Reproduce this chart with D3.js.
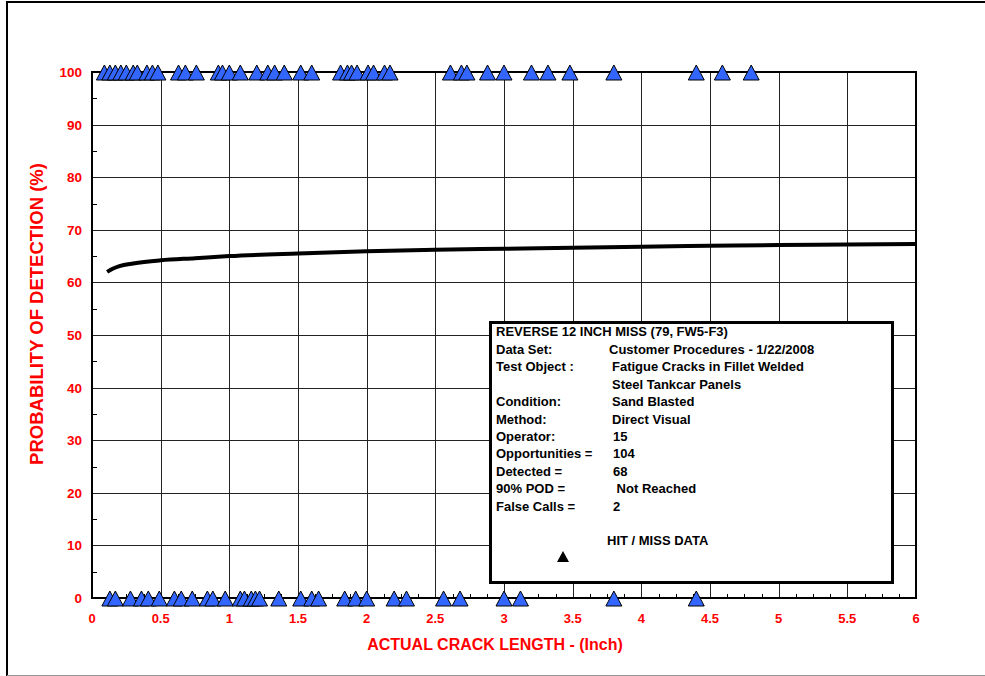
<!DOCTYPE html>
<html>
<head>
<meta charset="utf-8">
<script src="https://cdn.jsdelivr.net/npm/d3@7"></script>
<style>
  body { margin: 0; background: #fff; }
  text { font-family: Arial, "Liberation Sans", sans-serif; font-weight: bold; }
</style>
</head>
<body>
<div id="chart"></div>
<script>
// 画布大小
const width = 985, height = 676;
const margin = { left: 92, right: 69, top: 72, bottom: 78 };

// 命中 (100%) 的裂纹长度
const hitLengths = [0.09, 0.13, 0.17, 0.21, 0.25, 0.30, 0.33, 0.40, 0.44, 0.48,
  0.63, 0.68, 0.76, 0.92, 0.95, 1.00, 1.08, 1.20, 1.28, 1.33, 1.40, 1.52, 1.60,
  1.81, 1.86, 1.89, 1.93, 2.01, 2.05, 2.13, 2.17, 2.61, 2.69, 2.73, 2.88, 3.00,
  3.20, 3.32, 3.48, 3.80, 4.40, 4.59, 4.80];
// 漏检 (0%) 的裂纹长度
const missLengths = [0.13, 0.17, 0.28, 0.36, 0.41, 0.49, 0.60, 0.65, 0.73, 0.84,
  0.88, 0.97, 1.08, 1.11, 1.16, 1.19, 1.22, 1.36, 1.52, 1.60, 1.65, 1.84, 1.92,
  2.00, 2.20, 2.29, 2.56, 2.68, 3.00, 3.12, 3.80, 4.40];
// POD 曲线
const podX = [0.11, 0.15, 0.2, 0.3, 0.5, 0.75, 1, 1.5, 2, 2.5, 3, 3.5, 4, 4.5, 5, 5.5, 6];
const podY = [62.0, 62.6, 63.1, 63.6, 64.2, 64.6, 65.0, 65.5, 65.9, 66.2, 66.4, 66.6, 66.8, 66.95, 67.1, 67.2, 67.3];

const xTicks = [0, 0.5, 1, 1.5, 2, 2.5, 3, 3.5, 4, 4.5, 5, 5.5, 6];
const yTicks = [0, 10, 20, 30, 40, 50, 60, 70, 80, 90, 100];

// 图例文字
const legendTitle = "REVERSE 12 INCH MISS (79, FW5-F3)";
const legendLabels = ["Data Set:", "Test Object :", "", "Condition:", "Method:", "Operator:",
  "Opportunities =", "Detected =", "90% POD =", "False Calls ="];
const legendValues = ["Customer Procedures - 1/22/2008", "Fatigue Cracks in Fillet Welded",
  "Steel Tankcar Panels", "Sand Blasted", "Direct Visual", "15", "104", "68", " Not Reached", "2"];

const svg = d3.select("#chart").append("svg")
  .attr("width", width).attr("height", height);

// 外框
svg.append("path").attr("d", `M7,${height} V2 H${width}`)
  .attr("fill", "none").attr("stroke", "#000").attr("stroke-width", 2);
svg.append("line").attr("x1", 7).attr("x2", width).attr("y1", 675.5).attr("y2", 675.5)
  .attr("stroke", "#999").attr("stroke-width", 1);

const x = d3.scaleLinear().domain([0, 6]).range([margin.left, width - margin.right]);
const y = d3.scaleLinear().domain([0, 100]).range([height - margin.bottom, margin.top]);

const g = svg.append("g");

// 网格线
g.selectAll(".vgrid").data(xTicks.slice(1, -1)).join("line")
  .attr("x1", d => Math.round(x(d)) + 0.5).attr("x2", d => Math.round(x(d)) + 0.5)
  .attr("y1", y(100)).attr("y2", y(0))
  .attr("stroke", "#222").attr("stroke-width", 1);
g.selectAll(".hgrid").data(yTicks.slice(1, -1)).join("line")
  .attr("y1", d => Math.round(y(d)) + 0.5).attr("y2", d => Math.round(y(d)) + 0.5)
  .attr("x1", x(0)).attr("x2", x(6))
  .attr("stroke", "#222").attr("stroke-width", 1);

// 次刻度
const xMinor = d3.range(0.125, 6, 0.125).filter(v => Math.abs(v * 2 - Math.round(v * 2)) > 1e-6);
g.selectAll(".xminor").data(xMinor).join("line")
  .attr("x1", d => Math.round(x(d)) + 0.5).attr("x2", d => Math.round(x(d)) + 0.5)
  .attr("y1", y(0)).attr("y2", y(0) - 4)
  .attr("stroke", "#000");
g.selectAll(".yminor").data(d3.range(5, 100, 10)).join("line")
  .attr("y1", d => Math.round(y(d)) + 0.5).attr("y2", d => Math.round(y(d)) + 0.5)
  .attr("x1", x(0)).attr("x2", x(0) + 5)
  .attr("stroke", "#000");

// 绘图区边框
g.append("rect")
  .attr("x", x(0)).attr("y", y(100))
  .attr("width", x(6) - x(0)).attr("height", y(0) - y(100))
  .attr("fill", "none").attr("stroke", "#000").attr("stroke-width", 2);

// 坐标轴刻度标签
svg.selectAll(".xlab").data(xTicks).join("text")
  .attr("x", d => x(d)).attr("y", y(0) + 25)
  .attr("text-anchor", "middle").attr("fill", "#ff0000").attr("font-size", 13)
  .text(d => d);
svg.selectAll(".ylab").data(yTicks).join("text")
  .attr("x", x(0) - 10).attr("y", d => y(d) + 5)
  .attr("text-anchor", "end").attr("fill", "#ff0000").attr("font-size", 13.5)
  .text(d => d);

svg.append("text")
  .attr("x", 495).attr("y", 650)
  .attr("text-anchor", "middle").attr("fill", "#ff0000").attr("font-size", 16)
  .text("ACTUAL CRACK LENGTH - (Inch)");
svg.append("text")
  .attr("transform", "translate(43,314) rotate(-90)")
  .attr("text-anchor", "middle").attr("fill", "#ff0000").attr("font-size", 18.5)
  .text("PROBABILITY OF DETECTION (%)");

// POD 曲线
const line = d3.line().x(d => x(d[0])).y(d => y(d[1])).curve(d3.curveMonotoneX);
g.append("path").datum(podX.map((v, i) => [v, podY[i]]))
  .attr("d", line).attr("fill", "none")
  .attr("stroke", "#000").attr("stroke-width", 4);

// 三角形标记
const tri = (cx, cy) => `M${cx},${cy - 7} L${cx + 8},${cy + 8} L${cx - 8},${cy + 8} Z`;
g.selectAll(".hit").data(hitLengths).join("path")
  .attr("d", d => tri(x(d), y(100)))
  .attr("fill", "#3366ff").attr("stroke", "#000").attr("stroke-width", 1);
g.selectAll(".miss").data(missLengths).join("path")
  .attr("d", d => tri(x(d), y(0)))
  .attr("fill", "#3366ff").attr("stroke", "#000").attr("stroke-width", 1);

// 图例框
const lg = svg.append("g");
lg.append("rect").attr("x", 490.5).attr("y", 322.5).attr("width", 402).attr("height", 260)
  .attr("fill", "#fff").attr("stroke", "#000").attr("stroke-width", 3);
lg.append("text").attr("x", 496).attr("y", 336).attr("font-size", 13).text(legendTitle);
legendLabels.forEach((t, i) => {
  lg.append("text").attr("x", 496).attr("y", 354 + i * 17.4).attr("font-size", 13).text(t);
});
legendValues.forEach((t, i) => {
  lg.append("text").attr("x", 609 + (i >= 5 ? 4 : (i === 0 ? 0 : 3))).attr("y", 354 + i * 17.4)
    .attr("font-size", 13).attr("xml:space", "preserve").style("white-space", "pre").text(t);
});
lg.append("text").attr("x", 607).attr("y", 545).attr("font-size", 13).text("HIT / MISS DATA");
lg.append("path").attr("d", "M563,551 L569,562 L557,562 Z").attr("fill", "#000");
</script>
</body>
</html>
